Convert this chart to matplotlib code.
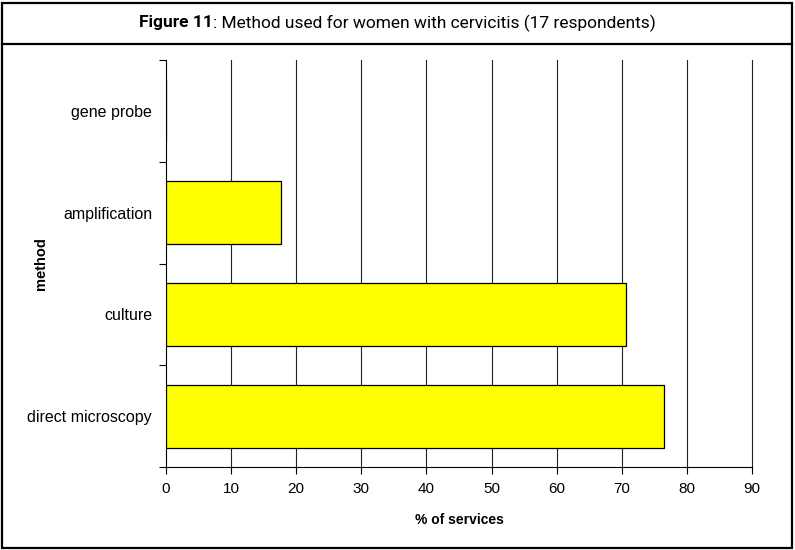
import matplotlib
matplotlib.use("Agg")
import matplotlib.pyplot as plt
from matplotlib.patches import Rectangle
from matplotlib.lines import Line2D

# data (share of 17 respondents)
methods = ['direct microscopy', 'culture', 'amplification', 'gene probe']
pct = [76.5, 70.6, 17.6, 0.0]
xticks = [0, 10, 20, 30, 40, 50, 60, 70, 80, 90]

W, H = 795, 550
fig = plt.figure(figsize=(W / 100, H / 100), dpi=100)

# outer frame and title box
fig.patches.append(Rectangle((2 / W, 2 / H), 790 / W, 545 / H, transform=fig.transFigure,
                             fill=False, edgecolor='black', linewidth=1.6))
fig.lines.append(Line2D([2 / W, 792 / W], [1 - 44 / H, 1 - 44 / H], transform=fig.transFigure,
                        color='black', linewidth=1.6))

ax = fig.add_axes([166 / W, 1 - 467 / H, (752 - 166) / W, (467 - 60) / H])
ypos = range(len(methods))
ax.barh(ypos, pct, height=0.62, color='#ffff00', edgecolor='black', linewidth=0.9, zorder=3)

ax.set_xlim(0, 90)
ax.set_ylim(-0.5, len(methods) - 0.5)
ax.set_xticks(xticks)
ax.set_xticklabels([str(t) for t in xticks], fontfamily='Liberation Sans', fontsize=11)
ax.set_yticks(list(ypos))
ax.set_yticklabels(methods, fontfamily='Liberation Sans', fontsize=11.5)
ax.tick_params(axis='y', length=0, pad=10)
ax.set_yticks([i - 0.5 for i in range(len(methods) + 1)], minor=True)
ax.tick_params(axis='y', which='minor', length=5, width=0.8)
ax.tick_params(axis='x', length=5, width=0.8, pad=6)
for t in xticks[1:]:
    ax.axvline(t, color='#222222', linewidth=0.8, zorder=0, clip_on=False)
for s in ['top', 'right']:
    ax.spines[s].set_visible(False)
for s in ['left', 'bottom']:
    ax.spines[s].set_linewidth(0.8)

ax.set_xlabel('% of services', fontfamily='Liberation Sans', fontsize=10, fontweight='bold', labelpad=12)
ax.set_ylabel('method', fontfamily='Liberation Sans', fontsize=10.5, fontweight='bold', labelpad=0)
ax.yaxis.set_label_coords(-118 / 586, 0.5)

# title: bold "Figure 11" then the rest, centred together
t1 = fig.text(0, 1 - 23 / H, 'Figure 11', fontfamily='Roboto', fontweight='bold',
              fontsize=12.5, va='center', ha='left')
t2 = fig.text(0, 1 - 23 / H, ': Method used for women with cervicitis (17 respondents)',
              fontfamily='Roboto', fontsize=12.5, va='center', ha='left')
fig.canvas.draw()
r = fig.canvas.get_renderer()
w1 = t1.get_window_extent(r).width
w2 = t2.get_window_extent(r).width
x0 = (W - w1 - w2) / 2
t1.set_x(x0 / W)
t2.set_x((x0 + w1) / W)

fig.savefig('out.png', dpi=100)
